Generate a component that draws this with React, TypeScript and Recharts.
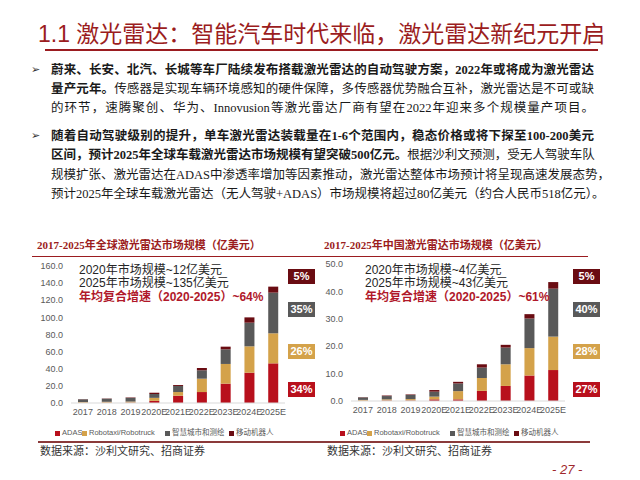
import React from 'react';
import { BarChart, Bar, XAxis, YAxis } from 'recharts';

const years = ['2017', '2018', '2019', '2020E', '2021E', '2022E', '2023E', '2024E', '2025E'];

// 全球 (亿美元)
const globalAdas = [0.3, 0.4, 0.5, 2.5, 8.5, 12.8, 22.6, 35.4, 46.3];
const globalRobotaxi = [0.8, 1.0, 1.2, 3.5, 4.3, 15.6, 23.0, 30.8, 35.1];
const globalCity = [3.2, 3.6, 4.3, 4.5, 7.1, 9.8, 17.1, 27.6, 47.5];
const globalRobot = [0.2, 0.3, 0.5, 1.5, 1.1, 2.7, 3.1, 6.2, 7.0];
const globalTicks = [0, 20, 40, 60, 80, 100, 120, 140, 160];
const globalShares = ['34%', '26%', '35%', '5%'];

// 中国 (亿美元)
const chinaAdas = [0.1, 0.2, 0.2, 0.6, 0.6, 3.7, 5.5, 9.3, 11.3];
const chinaRobotaxi = [0.3, 0.4, 0.5, 1.0, 3.0, 4.7, 7.9, 10.0, 12.2];
const chinaCity = [0.9, 1.2, 1.5, 1.8, 2.8, 3.8, 6.1, 10.8, 17.5];
const chinaRobot = [0.1, 0.2, 0.2, 0.6, 0.6, 1.2, 1.0, 1.6, 2.4];
const chinaTicks = [0, 5, 10, 15, 20, 25, 30, 35, 40, 45, 50];
const chinaShares = ['27%', '28%', '40%', '5%'];

const seriesNames = ['ADAS', 'Robotaxi/Robotruck', '智慧城市和测绘', '移动机器人'];
const seriesKeys = ['adas', 'robotaxi', 'city', 'robot'];
const seriesColors = ['#B8101C', '#D4A24A', '#595959', '#6A0C12'];

const buildRows = (a: number[], b: number[], c: number[], d: number[]) =>
  years.map((year, i) => ({ year, adas: a[i], robotaxi: b[i], city: c[i], robot: d[i] }));

const globalRows = buildRows(globalAdas, globalRobotaxi, globalCity, globalRobot);
const chinaRows = buildRows(chinaAdas, chinaRobotaxi, chinaCity, chinaRobot);

const sans = 'Arial, "Liberation Sans", "Noto Sans CJK SC", sans-serif';
const serif = '"Liberation Serif", "Noto Sans CJK SC", serif';
const darkRed = '#9B1C20';

const StackChart = ({ rows, ticks, max }: { rows: any[]; ticks: number[]; max: number }) => (
  <BarChart width={280} height={170} data={rows} margin={{ top: 11, right: 15, left: 0, bottom: 0 }}>
    <XAxis
      dataKey="year"
      interval={0}
      height={22}
      tickLine={false}
      tickSize={4}
      stroke="#D9D9D9"
      tick={{ fill: '#595959', fontSize: 9, fontFamily: sans }}
    />
    <YAxis
      width={51}
      domain={[0, max]}
      ticks={ticks}
      axisLine={false}
      tickLine={false}
      tickFormatter={(v: number) => v.toFixed(1)}
      tick={{ fill: '#595959', fontSize: 9, fontFamily: sans }}
    />
    {seriesKeys.map((key, i) => (
      <Bar key={key} dataKey={key} stackId="s" fill={seriesColors[i]} barSize={10} isAnimationActive={false} />
    ))}
  </BarChart>
);

const Legend = ({ left }: { left: number }) => {
  const gaps = [0, 27, 110, 174];
  return (
    <div style={{ position: 'absolute', left, top: 427, height: 12, width: 260 }}>
      {seriesNames.map((name, i) => (
        <div
          key={name}
          style={{
            position: 'absolute', left: gaps[i], top: 0, display: 'flex', alignItems: 'center',
            fontSize: 7.5, color: '#595959', fontFamily: sans, whiteSpace: 'nowrap', lineHeight: '12px',
          }}
        >
          <span style={{ width: 5, height: 5, background: seriesColors[i], marginRight: 2, display: 'inline-block' }} />
          {name}
        </div>
      ))}
    </div>
  );
};

const ShareBoxes = ({ left, shares }: { left: number; shares: string[] }) => {
  const tops = [382, 344, 302, 269];
  return (
    <>
      {shares.map((s, i) => (
        <div
          key={i}
          style={{
            position: 'absolute', left, top: tops[i], width: 27, height: 15, background: seriesColors[i],
            color: '#fff', fontWeight: 'bold', fontSize: 11, fontFamily: sans, textAlign: 'center', lineHeight: '15px',
          }}
        >
          {s}
        </div>
      ))}
    </>
  );
};

const Notes = ({ left, lines }: { left: number; lines: string[] }) => (
  <div style={{ position: 'absolute', left, top: 264, fontFamily: sans, fontSize: 12, lineHeight: '13px', whiteSpace: 'nowrap' }}>
    <div style={{ color: '#262626' }}>{lines[0]}</div>
    <div style={{ color: '#262626' }}>{lines[1]}</div>
    <div style={{ color: '#B0182A', fontWeight: 'bold', marginTop: 1 }}>{lines[2]}</div>
  </div>
);

const bodyLines: { bold: string; normal: string; bullet?: boolean }[] = [
  { bold: '蔚来、长安、北汽、长城等车厂陆续发布搭载激光雷达的自动驾驶方案，2022年或将成为激光雷达', normal: '', bullet: true },
  { bold: '量产元年。', normal: '传感器是实现车辆环境感知的硬件保障，多传感器优势融合互补，激光雷达是不可或缺' },
  { bold: '', normal: '的环节，速腾聚创、华为、Innovusion等激光雷达厂商有望在2022年迎来多个规模量产项目。' },
  { bold: '随着自动驾驶级别的提升，单车激光雷达装载量在1-6个范围内，稳态价格或将下探至100-200美元', normal: '', bullet: true },
  { bold: '区间，预计2025年全球车载激光雷达市场规模有望突破500亿元。', normal: '根据沙利文预测，受无人驾驶车队' },
  { bold: '', normal: '规模扩张、激光雷达在ADAS中渗透率增加等因素推动，激光雷达整体市场预计将呈现高速发展态势，' },
  { bold: '', normal: '预计2025年全球车载激光雷达（无人驾驶+ADAS）市场规模将超过80亿美元（约合人民币518亿元）。' },
];
const bodyCenters = [70, 89, 108, 136, 155, 175, 194];

export default function App() {
  return (
    <div style={{ position: 'fixed', left: 0, top: 0, width: 640, height: 480, background: '#fff', overflow: 'hidden' }}>
      <div style={{ position: 'absolute', left: 38, top: 20, fontFamily: sans, fontSize: 23, color: darkRed, whiteSpace: 'nowrap', lineHeight: '28px' }}>
        1.1 激光雷达：智能汽车时代来临，激光雷达新纪元开启
      </div>
      <div style={{ position: 'absolute', left: 45, top: 49, width: 553, height: 2, background: darkRed }} />

      {bodyLines.map((ln, i) => (
        <React.Fragment key={i}>
          {ln.bullet && (
            <div style={{ position: 'absolute', left: 31, top: bodyCenters[i] - 8, fontSize: 11, lineHeight: '16px', color: '#333', fontFamily: '"DejaVu Sans"' }}>➢</div>
          )}
          <div
            style={{
              position: 'absolute', left: 51, top: bodyCenters[i] - 9, width: 543, height: 18, lineHeight: '18px',
              fontSize: 12.5, fontFamily: serif, color: '#1a1a1a', whiteSpace: 'nowrap', textAlign: 'justify', textAlignLast: 'justify',
            }}
          >
            {ln.bold && <span style={{ fontWeight: 'bold' }}>{ln.bold}</span>}
            {ln.normal && <span>{ln.normal}</span>}
          </div>
        </React.Fragment>
      ))}

      <div style={{ position: 'absolute', left: 37, top: 238, fontFamily: serif, fontWeight: 'bold', fontSize: 11, color: darkRed, whiteSpace: 'nowrap', lineHeight: '14px' }}>
        2017-2025年全球激光雷达市场规模（亿美元）
      </div>
      <div style={{ position: 'absolute', left: 32, top: 256, width: 288, height: 1, background: darkRed }} />
      <div style={{ position: 'absolute', left: 324, top: 238, fontFamily: serif, fontWeight: 'bold', fontSize: 11, color: darkRed, whiteSpace: 'nowrap', lineHeight: '14px' }}>
        2017-2025年中国激光雷达市场规模（亿美元）
      </div>
      <div style={{ position: 'absolute', left: 320, top: 256, width: 268, height: 1, background: darkRed }} />

      <div style={{ position: 'absolute', left: 20, top: 255 }}>
        <StackChart rows={globalRows} ticks={globalTicks} max={160} />
      </div>
      <div style={{ position: 'absolute', left: 300, top: 253 }}>
        <StackChart rows={chinaRows} ticks={chinaTicks} max={50} />
      </div>

      <Notes left={79} lines={['2020年市场规模~12亿美元', '2025年市场规模~135亿美元', '年均复合增速（2020-2025）~64%']} />
      <Notes left={365} lines={['2020年市场规模~4亿美元', '2025年市场规模~43亿美元', '年均复合增速（2020-2025）~61%']} />
      <ShareBoxes left={288} shares={globalShares} />
      <ShareBoxes left={573} shares={chinaShares} />

      <Legend left={55} />
      <Legend left={340} />

      <div style={{ position: 'absolute', left: 38, top: 441, width: 552, height: 1.5, background: '#8B3A3A' }} />
      <div style={{ position: 'absolute', left: 40, top: 444, fontFamily: serif, fontSize: 11, color: '#333', whiteSpace: 'nowrap', lineHeight: '14px' }}>
        数据来源：沙利文研究、招商证券
      </div>
      <div style={{ position: 'absolute', left: 327, top: 444, fontFamily: serif, fontSize: 11, color: '#333', whiteSpace: 'nowrap', lineHeight: '14px' }}>
        数据来源：沙利文研究、招商证券
      </div>
      <div style={{ position: 'absolute', left: 552, top: 462, fontFamily: sans, fontSize: 13, fontStyle: 'italic', color: '#A0282D', whiteSpace: 'nowrap', lineHeight: '16px' }}>
        - 27 -
      </div>
    </div>
  );
}
